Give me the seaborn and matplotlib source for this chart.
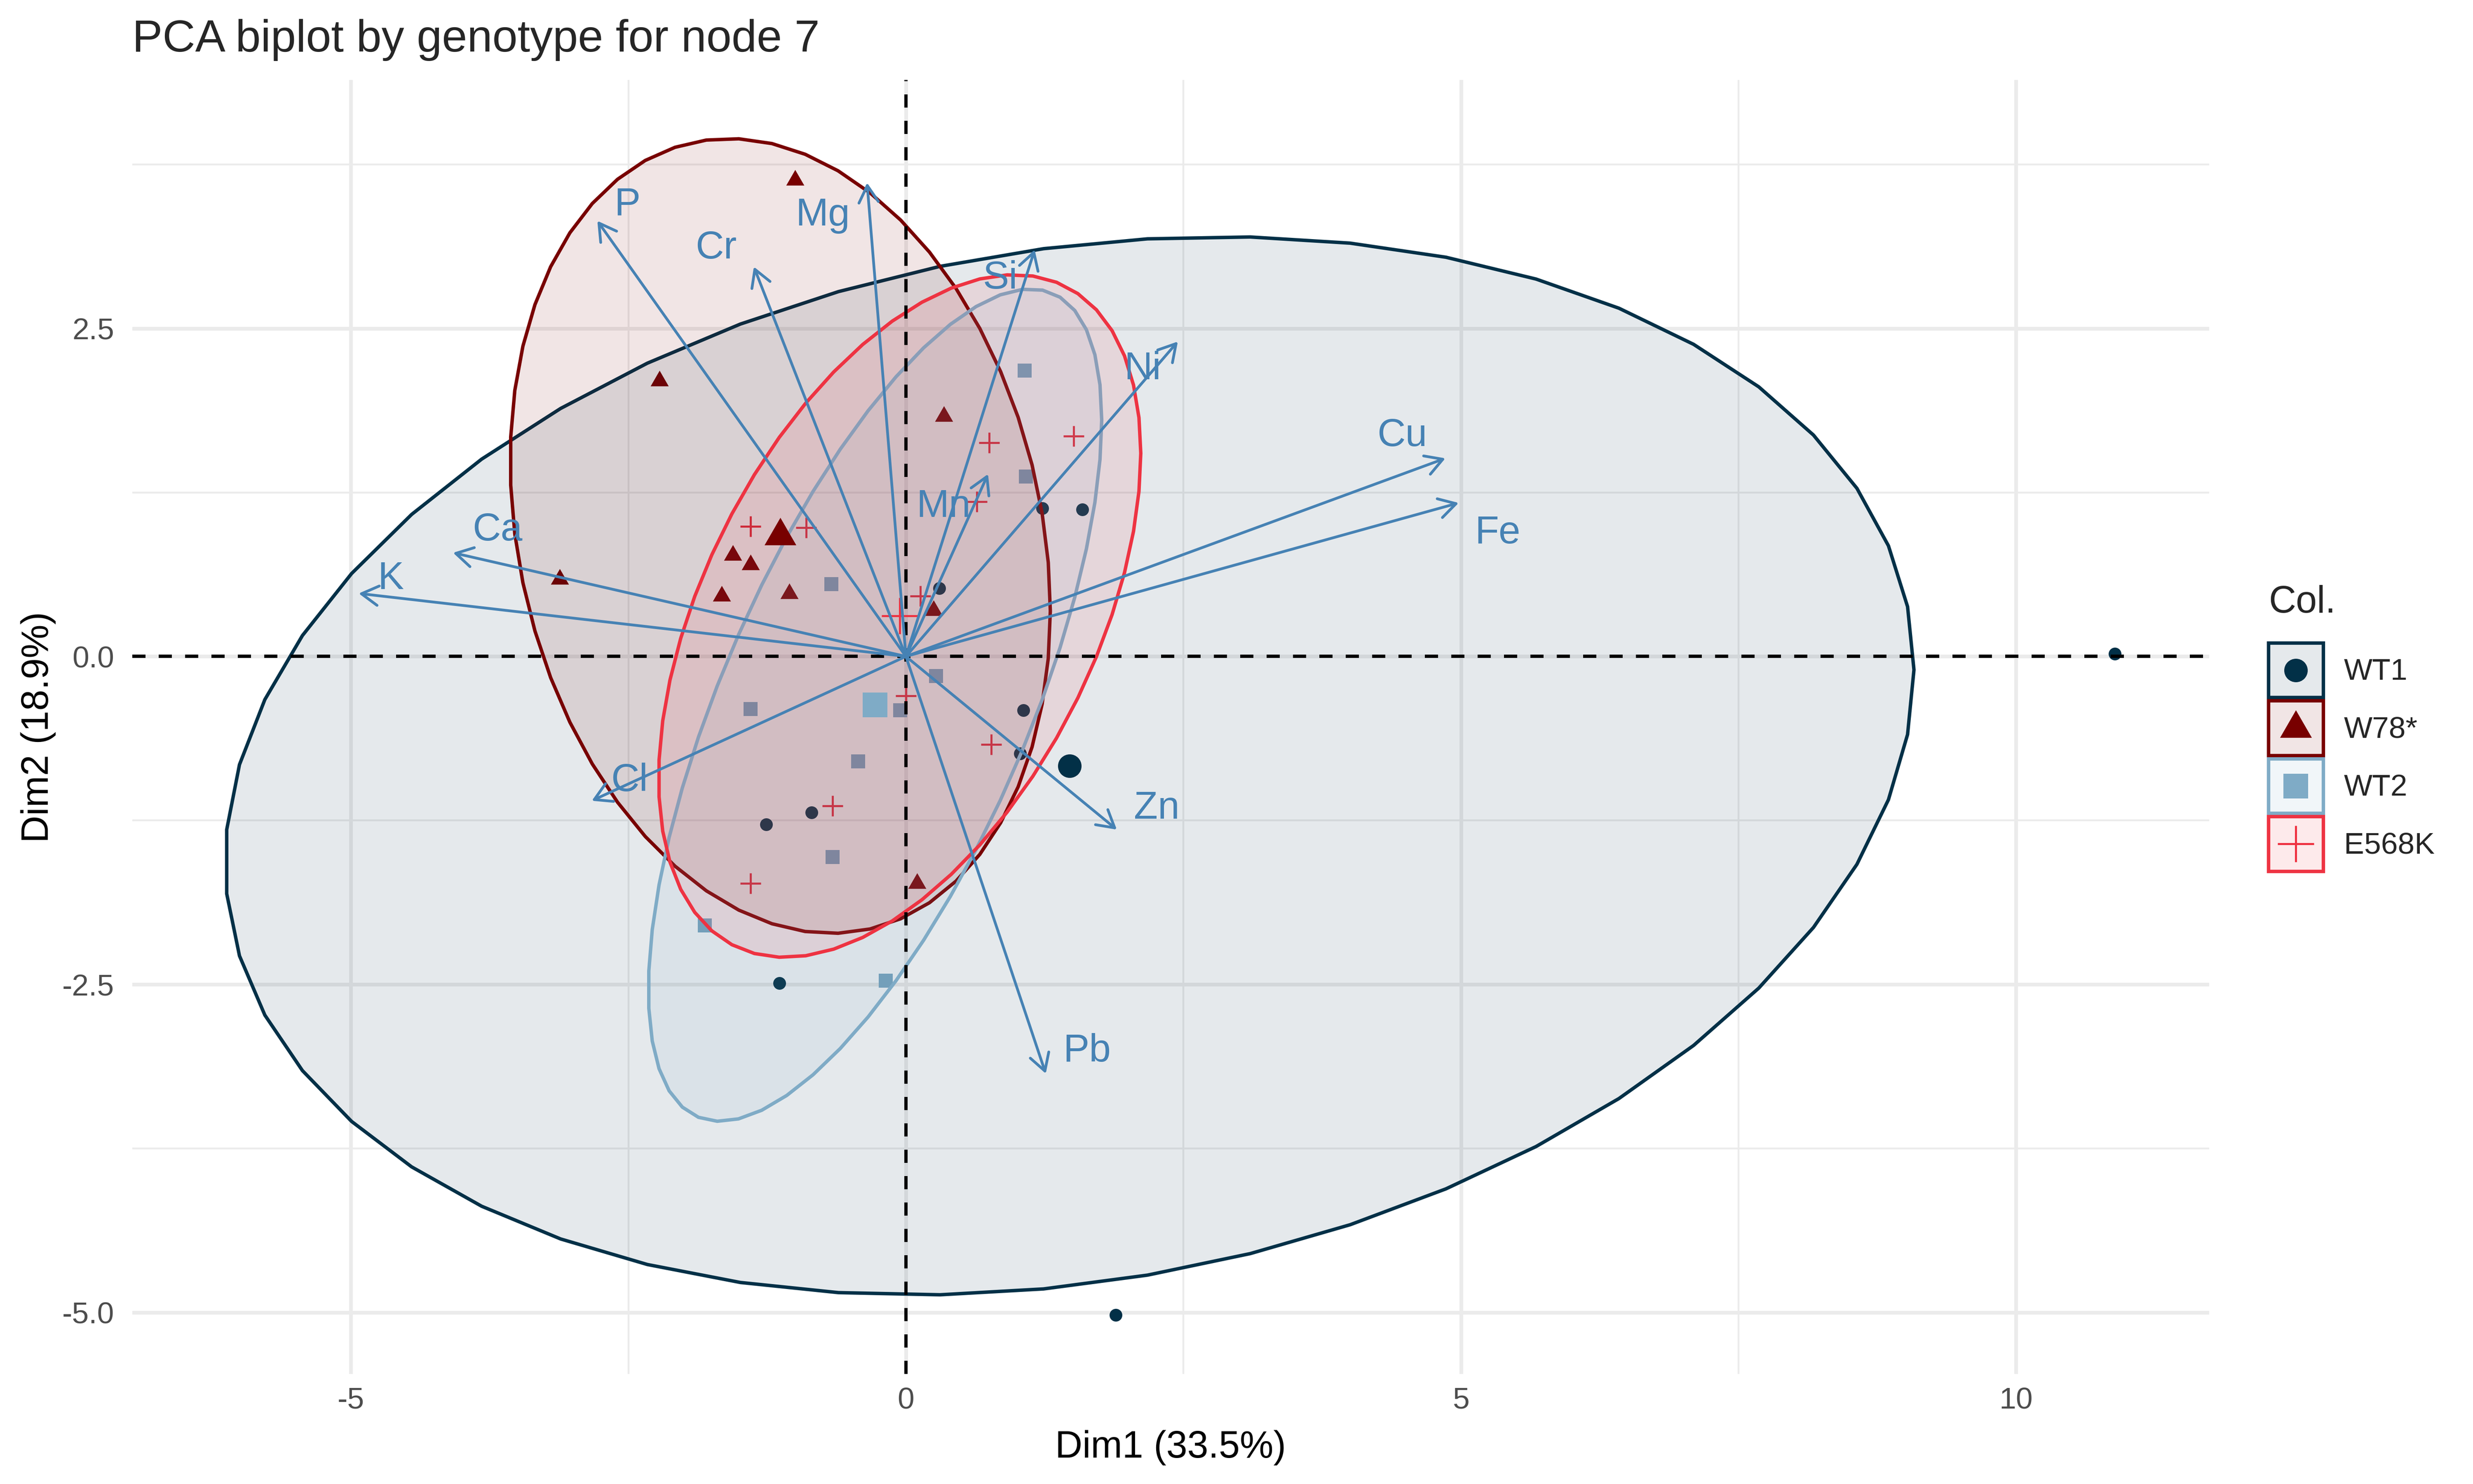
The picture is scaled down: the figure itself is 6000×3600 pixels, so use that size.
import numpy as np
import pandas as pd
import matplotlib
matplotlib.use("Agg")
import matplotlib.pyplot as plt
import seaborn as sns
from matplotlib.colors import to_rgba
from matplotlib.patches import Patch, Polygon
from matplotlib.lines import Line2D
from matplotlib.legend_handler import HandlerLine2D

# genotypes and their colours (legend order)
groups = ["WT1", "W78*", "WT2", "E568K"]
colors = ["#023047", "#780000", "#7FABC6", "#EE3342"]

# individual PCA coordinates
wt1_dim1 = [1.23, 1.59, 0.30, 1.06, 1.03, -0.85, -1.26, -1.14, 1.89, 10.89]
wt1_dim2 = [1.13, 1.12, 0.52, -0.41, -0.74, -1.19, -1.28, -2.49, -5.02, 0.02]
w78_dim1 = [-1.00, -2.22, 0.34, -3.12, -1.56, -1.40, -1.66, -1.05, 0.25, 0.10]
w78_dim2 = [3.63, 2.10, 1.83, 0.59, 0.77, 0.70, 0.46, 0.48, 0.35, -1.73]
wt2_dim1 = [1.07, 1.08, -0.67, 0.27, -1.40, -0.05, -0.43, -0.66, -1.81, -0.18]
wt2_dim2 = [2.18, 1.37, 0.55, -0.15, -0.40, -0.41, -0.80, -1.53, -2.05, -2.47]
e568k_dim1 = [0.75, 1.51, 0.64, -1.40, -0.90, 0.13, 0.00, 0.77, -0.66, -1.40]
e568k_dim2 = [1.63, 1.68, 1.18, 0.99, 0.98, 0.46, -0.30, -0.67, -1.14, -1.73]

# variable loadings (arrow tips)
var_names = ["P", "Mg", "Cr", "Si", "Ni", "Mn", "Cu", "Fe", "Ca", "K", "Cl", "Zn", "Pb"]
var_dim1 = [-2.78, -0.35, -1.37, 1.16, 2.45, 0.74, 4.86, 4.98, -4.08, -4.93, -2.83, 1.90, 1.26]
var_dim2 = [3.32, 3.61, 2.97, 3.10, 2.40, 1.39, 1.51, 1.17, 0.79, 0.48, -1.10, -1.32, -3.18]

# label nudges away from arrow tips (repel-style placement)
nudge_x = [0.27, -0.40, -0.34, -0.31, -0.32, -0.40, -0.39, 0.35, 0.40, 0.29, 0.34, 0.36, 0.37]
nudge_y = [0.15, -0.22, 0.17, -0.19, -0.18, -0.22, 0.20, -0.20, 0.20, 0.14, 0.18, 0.19, 0.20]

df = pd.concat([
    pd.DataFrame({"Dim1": wt1_dim1, "Dim2": wt1_dim2, "genotype": "WT1"}),
    pd.DataFrame({"Dim1": w78_dim1, "Dim2": w78_dim2, "genotype": "W78*"}),
    pd.DataFrame({"Dim1": wt2_dim1, "Dim2": wt2_dim2, "genotype": "WT2"}),
    pd.DataFrame({"Dim1": e568k_dim1, "Dim2": e568k_dim2, "genotype": "E568K"}),
], ignore_index=True)
loadings = pd.DataFrame({"var": var_names, "Dim1": var_dim1, "Dim2": var_dim2})


def norm_ellipse(x, y, level=0.85, segments=51):
    # same construction as ggplot2 stat_ellipse(type = "norm")
    pts = np.column_stack([x, y])
    n = len(pts)
    center = pts.mean(axis=0)
    shape = np.cov(pts, rowvar=False)
    dfd = n - 1
    qf = dfd / 2 * ((1 - level) ** (-2 / dfd) - 1)
    radius = np.sqrt(2 * qf)
    theta = np.linspace(0, 2 * np.pi, segments + 1)
    circle = np.column_stack([np.cos(theta), np.sin(theta)])
    return center + radius * circle @ np.linalg.cholesky(shape).T


class CenteredMarker(HandlerLine2D):
    # put the legend glyph in the middle of the key box
    def create_artists(self, legend, orig_handle, xdescent, ydescent, width, height,
                       fontsize, trans):
        artists = super().create_artists(legend, orig_handle, xdescent, ydescent,
                                         width, height, fontsize, trans)
        for a in artists:
            a.set_ydata(np.full(len(a.get_ydata()), height / 2 - ydescent))
        return artists


sns.set_style("white")
plt.rcParams["font.family"] = ["Liberation Sans", "DejaVu Sans"]
plt.rcParams["axes.unicode_minus"] = False

fig = plt.figure(figsize=(10, 6), dpi=600)
ax = fig.add_axes([0.0535, 0.0742, 0.8398, 0.8719])

tri = [(-1, -0.577), (1, -0.577), (0, 1.155)]
markers = {"WT1": "o", "W78*": tri, "WT2": "s", "E568K": "+"}
small_size = {"WT1": 13.8, "W78*": 37, "WT2": 15.7, "E568K": 36}
big_size = {"WT1": 47, "W78*": 114, "WT2": 52, "E568K": 112}
legend_ms = {"WT1": 6.84, "W78*": 10.7, "WT2": 7.2, "E568K": 10.56}

# individuals
for g, c in zip(groups, colors):
    sub = df[df["genotype"] == g]
    lw = 0.6 if markers[g] == "+" else 0
    sns.scatterplot(data=sub, x="Dim1", y="Dim2", color=c, marker=markers[g],
                    s=small_size[g], linewidth=lw, ax=ax, zorder=2, legend=False)

# concentration ellipses
all_pts = [df[["Dim1", "Dim2"]].to_numpy()]
for g, c in zip(groups, colors):
    sub = df[df["genotype"] == g]
    verts = norm_ellipse(sub["Dim1"].to_numpy(), sub["Dim2"].to_numpy())
    all_pts.append(verts)
    ax.add_patch(Polygon(verts, closed=True, facecolor=to_rgba(c, 0.1),
                         edgecolor=c, linewidth=1.0, zorder=3))

# group means
means = df.groupby("genotype", sort=False)[["Dim1", "Dim2"]].mean().reset_index()
for g, c in zip(groups, colors):
    sub = means[means["genotype"] == g]
    lw = 0.6 if markers[g] == "+" else 0
    sns.scatterplot(data=sub, x="Dim1", y="Dim2", color=c, marker=markers[g],
                    s=big_size[g], linewidth=lw, ax=ax, zorder=4, legend=False)

ax.axhline(0, color="black", lw=0.96, ls=(0, (4, 4)), zorder=5)
ax.axvline(0, color="black", lw=0.96, ls=(0, (4, 4)), zorder=5)

# variable arrows and labels
arrow_col = "#4682B4"
for i, row in loadings.iterrows():
    ax.annotate("", xy=(row["Dim1"], row["Dim2"]), xytext=(0, 0),
                arrowprops=dict(arrowstyle="->,head_length=4.91,head_width=2.835",
                                mutation_scale=1, color=arrow_col, lw=0.8,
                                shrinkA=0, shrinkB=0),
                zorder=6)
    ax.annotate(row["var"], xy=(row["Dim1"] + nudge_x[i], row["Dim2"] + nudge_y[i]),
                xytext=(0, -4.08), textcoords="offset points",
                ha="center", va="baseline", fontsize=11.4, color=arrow_col, zorder=7)

# limits with 5% expansion like ggplot
stack = np.vstack(all_pts)
lo, hi = stack.min(axis=0), stack.max(axis=0)
pad = (hi - lo) * 0.05
ax.set_xlim(lo[0] - pad[0], hi[0] + pad[0])
ax.set_ylim(lo[1] - pad[1], hi[1] + pad[1])

ax.set_xticks([-5, 0, 5, 10])
ax.set_xticklabels(["-5", "0", "5", "10"])
ax.set_yticks([-5, -2.5, 0, 2.5])
ax.set_yticklabels(["-5.0", "-2.5", "0.0", "2.5"])
ax.set_xticks([-2.5, 2.5, 7.5], minor=True)
ax.set_yticks([-3.75, -1.25, 1.25, 3.75], minor=True)
ax.grid(which="major", color="#EBEBEB", lw=1.07)
ax.grid(which="minor", color="#EBEBEB", lw=0.53)
ax.set_axisbelow(True)
ax.tick_params(which="both", length=0, labelsize=8.8, labelcolor="#4D4D4D")
ax.tick_params(axis="x", pad=3.8)
ax.tick_params(axis="y", pad=5.3)
for s in ax.spines.values():
    s.set_visible(False)

ax.set_xlabel("Dim1 (33.5%)", fontsize=11, color="black")
ax.set_ylabel("Dim2 (18.9%)", fontsize=11, color="black")
ax.xaxis.set_label_coords(0.5, -0.0647)
ax.xaxis.label.set_va("baseline")
ax.yaxis.set_label_coords(-0.0405, 0.5)
ax.yaxis.label.set_va("baseline")
ax.set_title("PCA biplot by genotype for node 7", loc="left", fontsize=13.2, pad=8.3)

# legend: ellipse key with point glyph on top
handles = []
for g, c in zip(groups, colors):
    box = Patch(facecolor=to_rgba(c, 0.1), edgecolor=c, linewidth=1.0)
    mew = 0.6 if markers[g] == "+" else 0
    pt = Line2D([], [], linestyle="none", marker=markers[g], markersize=legend_ms[g],
                color=c, markeredgecolor=c, markeredgewidth=mew)
    handles.append((box, pt))
leg = ax.legend(handles, groups, title="Col.", loc="upper left",
                bbox_to_anchor=(5504 / 6000, 1 - 1419 / 3600), bbox_transform=fig.transFigure,
                frameon=False, fontsize=8.8, title_fontsize=11, handlelength=1.81,
                handleheight=2.4, handletextpad=0.68, labelspacing=0.11,
                borderpad=0, borderaxespad=0, alignment="left",
                handler_map={Line2D: CenteredMarker()})
leg._legend_box.sep = 6.6

fig.savefig("out.png", dpi=600)
